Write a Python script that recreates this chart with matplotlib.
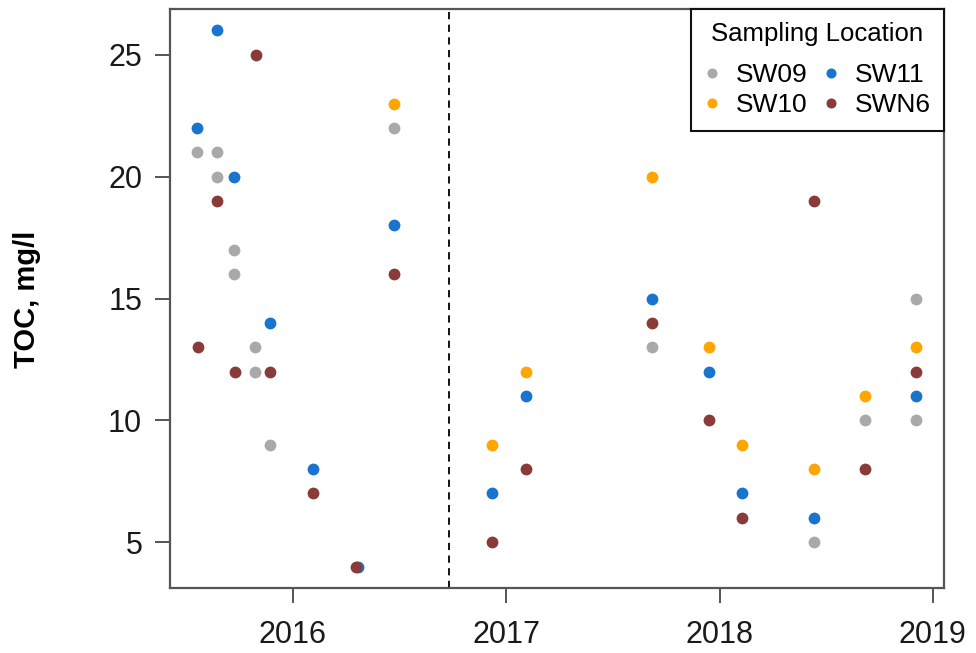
import matplotlib
matplotlib.use("Agg")
import matplotlib.pyplot as plt
import matplotlib.dates as mdates
from datetime import datetime as dt

plt.rcParams['font.family'] = ['Liberation Sans', 'DejaVu Sans']

# ---- data ----
sw09_dates = ["2015-07-22", "2015-08-25", "2015-08-25", "2015-09-23", "2015-09-23",
              "2015-10-29", "2015-10-29", "2015-11-23", "2016-06-22", "2017-09-07",
              "2018-06-11", "2018-09-07", "2018-12-03", "2018-12-03"]
sw09_toc = [21, 21, 20, 17, 16, 13, 12, 9, 22, 13, 5, 10, 15, 10]

sw10_dates = ["2016-06-22", "2016-12-07", "2017-02-03", "2017-09-07", "2017-12-13",
              "2018-02-08", "2018-06-11", "2018-09-07", "2018-12-03"]
sw10_toc = [23, 9, 12, 20, 13, 9, 8, 11, 13]

sw11_dates = ["2015-07-22", "2015-08-25", "2015-09-23", "2015-11-24", "2016-02-04",
              "2016-04-21", "2016-06-22", "2016-12-07", "2017-02-03", "2017-09-07",
              "2017-12-13", "2018-02-08", "2018-06-11", "2018-12-03"]
sw11_toc = [22, 26, 20, 14, 8, 4, 18, 7, 11, 15, 12, 7, 6, 11]

swn6_dates = ["2015-07-23", "2015-08-25", "2015-09-24", "2015-10-31", "2015-11-24",
              "2016-02-04", "2016-04-19", "2016-06-22", "2016-12-07", "2017-02-03",
              "2017-09-07", "2017-12-13", "2018-02-08", "2018-06-11", "2018-09-07",
              "2018-12-03"]
swn6_toc = [13, 19, 12, 25, 12, 7, 4, 16, 5, 8, 14, 10, 6, 19, 8, 12]

series_names = ["SW09", "SW10", "SW11", "SWN6"]
series_colors = ["#A9A9A9", "#FFA500", "#1874CD", "#8B3A3A"]
series_dates = [sw09_dates, sw10_dates, sw11_dates, swn6_dates]
series_vals = [sw09_toc, sw10_toc, sw11_toc, swn6_toc]

cutoff_date = "2016-09-24"
year_ticks = [2016, 2017, 2018, 2019]
y_ticks = [5, 10, 15, 20, 25]

# ---- figure ----
fig = plt.figure(figsize=(9.76, 6.53), dpi=100)
ax = fig.add_axes([170/976, 1-588/653, 774/976, 579/653])

def to_dt(s):
    return dt.strptime(s, "%Y-%m-%d")

handles = []
for name, col, ds, vs in zip(series_names, series_colors, series_dates, series_vals):
    h, = ax.plot([to_dt(d) for d in ds], vs, linestyle='none', marker='o',
                 ms=8.5, color=col, mec='none', label=name)
    handles.append(h)

ax.axvline(to_dt(cutoff_date), color='black', linestyle=(0, (4, 3)), lw=1.3)

ax.set_xlim(dt(2015, 6, 5), dt(2019, 1, 20))
ax.set_ylim(3.12, 26.88)
ax.set_xticks([dt(y, 1, 1) for y in year_ticks])
ax.set_xticklabels([str(y) for y in year_ticks])
ax.set_yticks(y_ticks)
ax.set_yticklabels([str(v) for v in y_ticks])

for sp in ax.spines.values():
    sp.set_color('#555555')
    sp.set_linewidth(1.6)
ax.tick_params(axis='both', length=11, width=1.4, color='#555555',
               labelsize=22, labelcolor='#1a1a1a')
ax.tick_params(axis='x', pad=12)
ax.tick_params(axis='y', pad=9)

fig.text(27/976, 1-299/653, "TOC, mg/l", rotation=90, ha='center', va='center',
         fontsize=21, fontweight='bold')

leg = ax.legend(handles=handles, ncol=2, loc='upper right', borderaxespad=0,
                title="Sampling Location", fontsize=19, title_fontsize=18.5,
                fancybox=False, edgecolor='#111111', framealpha=1,
                handlelength=0.6, handletextpad=0.6, columnspacing=0.6,
                labelspacing=0.25, borderpad=0.5, markerscale=0.85)
leg.get_frame().set_linewidth(1.5)
leg._legend_box.sep = 12

fig.savefig("out.png", dpi=100)
